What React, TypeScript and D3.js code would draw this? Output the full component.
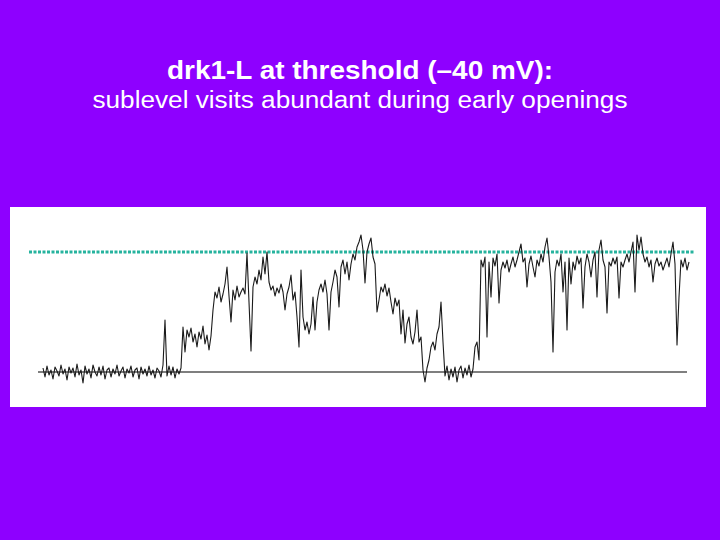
import React, { useEffect, useRef } from "react";
import * as d3 from "d3";

// single channel current trace, pA (0 = closed, 1.2 = fully open), one sample per step
const closedNoise: number[] = [
  0.04, -0.05, 0.06, -0.03, 0.02, -0.07, 0.05, 0.01, -0.04, 0.07,
  -0.02, 0.03, -0.08, 0.05, -0.01, 0.04, -0.05, 0.08, -0.03, 0.02,
  -0.11, 0.06, -0.02, 0.03, -0.06, 0.07, 0.0, -0.04, 0.05, -0.03,
  0.06, -0.07, 0.02, 0.04, -0.05, 0.03, -0.02, 0.07, -0.04, 0.01,
  0.05, -0.06, 0.03, -0.01, 0.06, -0.05, 0.02, 0.04, -0.07, 0.05,
  -0.02, 0.03, -0.04, 0.06, -0.03, 0.02, -0.06, 0.04, 0.01, -0.05,
  0.07,
];
const spikeTail: number[] = [0.52, -0.04, 0.06, -0.03, 0.05, -0.06, 0.03, -0.02, 0.04];
const firstSublevel: number[] = [
  0.45, 0.2, 0.42, 0.35, 0.44, 0.3, 0.38, 0.25, 0.4, 0.33, 0.46, 0.28, 0.37, 0.22, 0.36,
];
const secondSublevel: number[] = [
  0.62, 0.8, 0.74, 0.85, 0.7, 0.78, 0.88, 1.05, 0.76, 0.5,
  0.82, 0.72, 0.86, 0.75, 0.8, 0.84, 0.78, 1.19, 0.7, 0.21,
];
const upperBurst: number[] = [
  0.85, 0.95, 0.88, 1.02, 0.92, 1.15, 0.98, 1.2, 0.9, 0.82, 0.86, 0.76, 0.84, 0.79, 0.88,
];
const middleFlicker: number[] = [
  0.8, 0.62, 0.78, 0.85, 0.97, 0.72, 0.8, 0.55, 0.25, 1.02,
  0.55, 0.42, 0.5, 0.38, 0.48, 0.75, 0.42, 0.7, 0.82, 0.88,
  0.8, 0.92, 0.78, 0.42, 0.8,
];
const fullOpenBurst: number[] = [
  0.9, 1.02, 0.95, 0.65, 1.05, 1.12, 0.98, 1.1, 0.92, 1.08, 1.18,
  1.12, 1.25, 1.3, 1.37, 1.22, 0.89, 1.2, 1.28, 1.34, 1.15, 1.08,
];
const decay: number[] = [
  0.6, 0.72, 0.85, 0.8, 0.88, 0.76, 0.84, 0.7, 0.58, 0.74, 0.66, 0.72,
  0.38, 0.62, 0.29, 0.48, 0.55, 0.35, 0.28, 0.4, 0.62, 0.3, 0.35,
];
const briefReopen: number[] = [0.02, -0.1, 0.04, 0.12, 0.25, 0.3, 0.22, 0.38, 0.45, 0.7, 0.3];
const secondClosed: number[] = [
  -0.04, 0.06, -0.08, 0.03, -0.05, 0.05, -0.1, 0.02, 0.06, -0.06, 0.04, -0.03, 0.07, -0.05, 0.03,
];
const rise: number[] = [0.25, 0.3, 0.12];
const lateOpen: number[] = [
  1.12, 1.05, 1.15, 0.35, 1.1, 0.75, 1.14, 1.06, 1.18, 0.69,
  1.02, 1.1, 1.04, 1.12, 1.0, 1.08, 1.15, 1.05, 1.12, 1.2,
  1.28, 1.1, 1.14, 0.85, 1.08, 1.16, 1.05, 0.95, 1.12, 1.06,
  1.18, 1.1, 1.25, 1.34, 1.15, 0.9, 0.2, 1.0, 1.12, 1.06,
  1.18, 0.8, 1.1, 0.42, 1.14, 0.88, 1.1, 1.02, 1.16, 1.08,
  1.14, 0.64, 1.05, 1.18, 1.1, 0.95, 1.12, 1.2, 0.75, 1.22,
  1.32, 1.12, 1.05, 0.59, 1.1, 1.06, 1.14, 1.08, 1.15, 0.74,
  1.1, 1.05, 1.12, 1.18, 1.1, 1.2, 1.3, 0.8, 1.37, 1.22,
  1.35, 1.18, 1.1, 1.15, 1.05, 1.12, 0.9, 1.08, 1.14, 1.06,
  1.1, 1.02, 1.08, 1.14, 1.05, 1.18, 1.3, 1.08, 0.27, 0.75,
  1.12, 1.05, 1.14, 1.02, 1.1,
];

const trace: number[] = [
  ...closedNoise, ...spikeTail, ...firstSublevel, ...secondSublevel, ...upperBurst,
  ...middleFlicker, ...fullOpenBurst, ...decay, ...briefReopen, ...secondClosed,
  ...rise, ...lateOpen,
];

const closedLevel = 0;
const openLevel = 1.2;

const title = "drk1-L at threshold (\u201340 mV):";
const subtitle = "sublevel visits abundant during early openings";

function App() {
  const ref = useRef<SVGSVGElement>(null);

  useEffect(() => {
    const width = 720;
    const height = 540;
    const svg = d3.select(ref.current).attr("width", width).attr("height", height);
    svg.selectAll("*").remove();

    svg.append("rect").attr("width", width).attr("height", height).attr("fill", "#8E00FF");

    svg
      .append("text")
      .attr("x", 360)
      .attr("y", 79)
      .attr("text-anchor", "middle")
      .attr("fill", "#fff")
      .attr("font-family", "Liberation Sans, Arial, sans-serif")
      .attr("font-weight", "bold")
      .attr("font-size", 26)
      .attr("textLength", 386)
      .attr("lengthAdjust", "spacingAndGlyphs")
      .text(title);

    svg
      .append("text")
      .attr("x", 360)
      .attr("y", 108)
      .attr("text-anchor", "middle")
      .attr("fill", "#fff")
      .attr("font-family", "Liberation Sans, Arial, sans-serif")
      .attr("font-size", 23)
      .attr("textLength", 535)
      .attr("lengthAdjust", "spacingAndGlyphs")
      .text(subtitle);

    // white panel
    svg.append("rect").attr("x", 10).attr("y", 207).attr("width", 696).attr("height", 200).attr("fill", "#fff");

    const x = d3.scaleLinear().domain([0, trace.length - 1]).range([43, 689]);
    const y = d3.scaleLinear().domain([closedLevel, openLevel]).range([372, 252]);

    // open level
    svg
      .append("line")
      .attr("x1", 29)
      .attr("x2", 694)
      .attr("y1", y(openLevel))
      .attr("y2", y(openLevel))
      .attr("stroke", "#26B39E")
      .attr("stroke-width", 3)
      .attr("stroke-dasharray", "3,1.5");

    // closed level
    svg
      .append("line")
      .attr("x1", 38)
      .attr("x2", 687)
      .attr("y1", y(closedLevel))
      .attr("y2", y(closedLevel))
      .attr("stroke", "#555")
      .attr("stroke-width", 1.5);

    const line = d3
      .line<number>()
      .x((d, i) => x(i))
      .y((d) => y(d));

    svg
      .append("path")
      .datum(trace)
      .attr("d", line)
      .attr("fill", "none")
      .attr("stroke", "#1a1a1a")
      .attr("stroke-width", 1.1)
      .attr("stroke-linejoin", "round");
  }, []);

  return <svg ref={ref} style={{ position: "absolute", left: 0, top: 0 }}></svg>;
}

export default App;
